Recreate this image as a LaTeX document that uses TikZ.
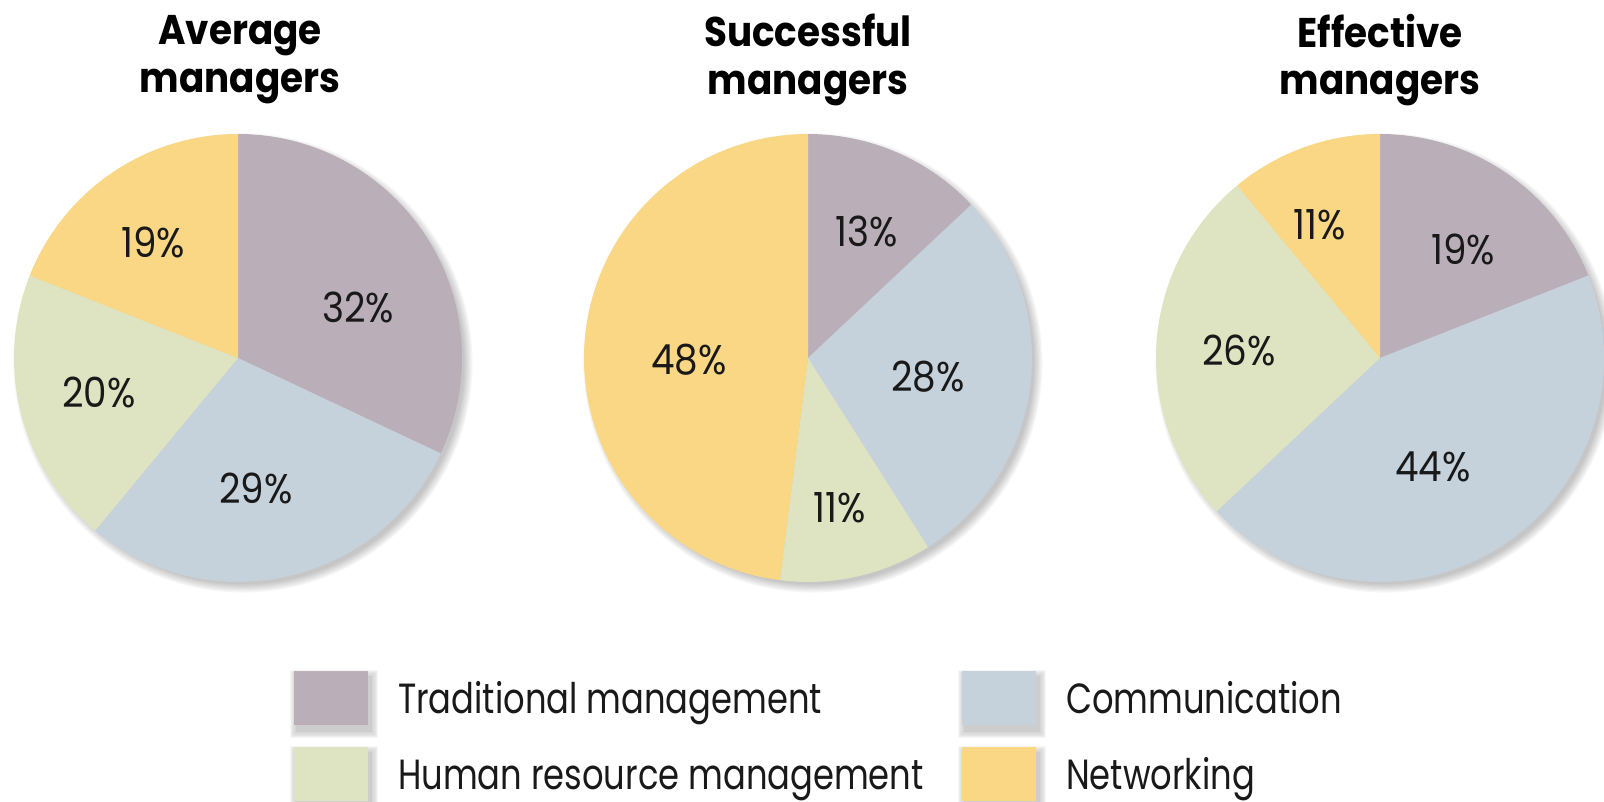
\documentclass[tikz,border=0pt]{standalone}
\usepackage{fontspec}
\setmainfont{Poppins}[FakeStretch=0.8]
\newfontfamily\headfont{Poppins}[FakeStretch=0.9]
\newfontfamily\pctfont{Poppins}[FakeStretch=0.9]
\usepackage{tikz}

\definecolor{tradcol}{RGB}{186,175,184}
\definecolor{commcol}{RGB}{197,209,219}
\definecolor{hrmcol}{RGB}{222,228,193}
\definecolor{netcol}{RGB}{250,215,133}
\definecolor{inkcol}{RGB}{25,25,25}

% one wedge of a pie: centre, start angle, end angle, colour
\newcommand{\pieslice}[4]{%
	\fill[#4] (#1) -- ++(#2:2.24) arc (#2:#3:2.24) -- cycle;
}
% soft shadow under a pie
\newcommand{\pieshadow}[1]{%
	\foreach \k in {1,...,8}
		\fill[black, opacity=0.03] (#1) ++(0.05,-0.05) circle ({2.20+\k*0.012});
}
% legend square with its text: name, x, y, colour, text
\newcommand{\legentry}[5]{%
	\foreach \k in {1,...,6}
		\fill[black, opacity=0.035] ({#2+0.04-\k*0.012},{#3-0.05-\k*0.012}) rectangle ++({0.74+\k*0.024},{0.54+\k*0.024});
	\node[legbox, fill=#4, anchor=south west] (#1) at (#2,#3) {};
	\node[legtext, anchor=base west] (#1text) at ([xshift=0.29cm, yshift=-0.15cm]#1.east) {#5};
}

\begin{document}
\begin{tikzpicture}[
	pct/.style={font=\pctfont\fontsize{11.8}{14}\selectfont, text=inkcol, inner sep=0pt},
	title/.style={font=\headfont\bfseries\fontsize{11.8}{13.6}\selectfont, align=center, text=black},
	legbox/.style={minimum width=0.74cm, minimum height=0.54cm, inner sep=0pt, draw=none},
	legtext/.style={font=\fontsize{12.0}{15}\selectfont, text=inkcol, inner sep=0pt}]
	\useasboundingbox (0,0) rectangle (16.04,8.02);

	\coordinate (avg) at (2.38,4.44);
	\coordinate (suc) at (8.08,4.44);
	\coordinate (eff) at (13.80,4.44);

	% titles
	\node[title] (avgtitle) at (2.40,7.42) {Average\\managers};
	\node[title] (suctitle) at (8.08,7.42) {Successful\\managers};
	\node[title] (efftitle) at (13.80,7.42) {Effective\\managers};

	% average managers
	\pieshadow{avg}
	\pieslice{avg}{90}{-25.2}{tradcol}
	\pieslice{avg}{-25.2}{-129.6}{commcol}
	\pieslice{avg}{-129.6}{-201.6}{hrmcol}
	\pieslice{avg}{-201.6}{-270}{netcol}
	\node[pct] (avgnet) at (1.53,5.60) {19\%};
	\node[pct] (avgtrad) at (3.58,4.95) {32\%};
	\node[pct] (avghrm) at (0.99,4.10) {20\%};
	\node[pct] (avgcomm) at (2.56,3.14) {29\%};

	% successful managers
	\pieshadow{suc}
	\pieslice{suc}{90}{43.2}{tradcol}
	\pieslice{suc}{43.2}{-57.6}{commcol}
	\pieslice{suc}{-57.6}{-97.2}{hrmcol}
	\pieslice{suc}{-97.2}{-270}{netcol}
	\node[pct] (suctrad) at (8.67,5.71) {13\%};
	\node[pct] (succomm) at (9.28,4.25) {28\%};
	\node[pct] (sucnet) at (6.89,4.42) {48\%};
	\node[pct] (suchrm) at (8.40,2.94) {11\%};

	% effective managers
	\pieshadow{eff}
	\pieslice{eff}{90}{21.6}{tradcol}
	\pieslice{eff}{21.6}{-136.8}{commcol}
	\pieslice{eff}{-136.8}{-230.4}{hrmcol}
	\pieslice{eff}{-230.4}{-270}{netcol}
	\node[pct] (effnet) at (13.20,5.77) {11\%};
	\node[pct] (efftrad) at (14.63,5.53) {19\%};
	\node[pct] (effhrm) at (12.39,4.52) {26\%};
	\node[pct] (effcomm) at (14.33,3.35) {44\%};

	% legend
	\legentry{keytrad}{2.93}{0.76}{tradcol}{Traditional management}
	\legentry{keyhrm}{2.93}{0.00}{hrmcol}{Human resource management}
	\legentry{keycomm}{9.61}{0.76}{commcol}{Communication}
	\legentry{keynet}{9.61}{0.00}{netcol}{Networking}
\end{tikzpicture}
\end{document}
